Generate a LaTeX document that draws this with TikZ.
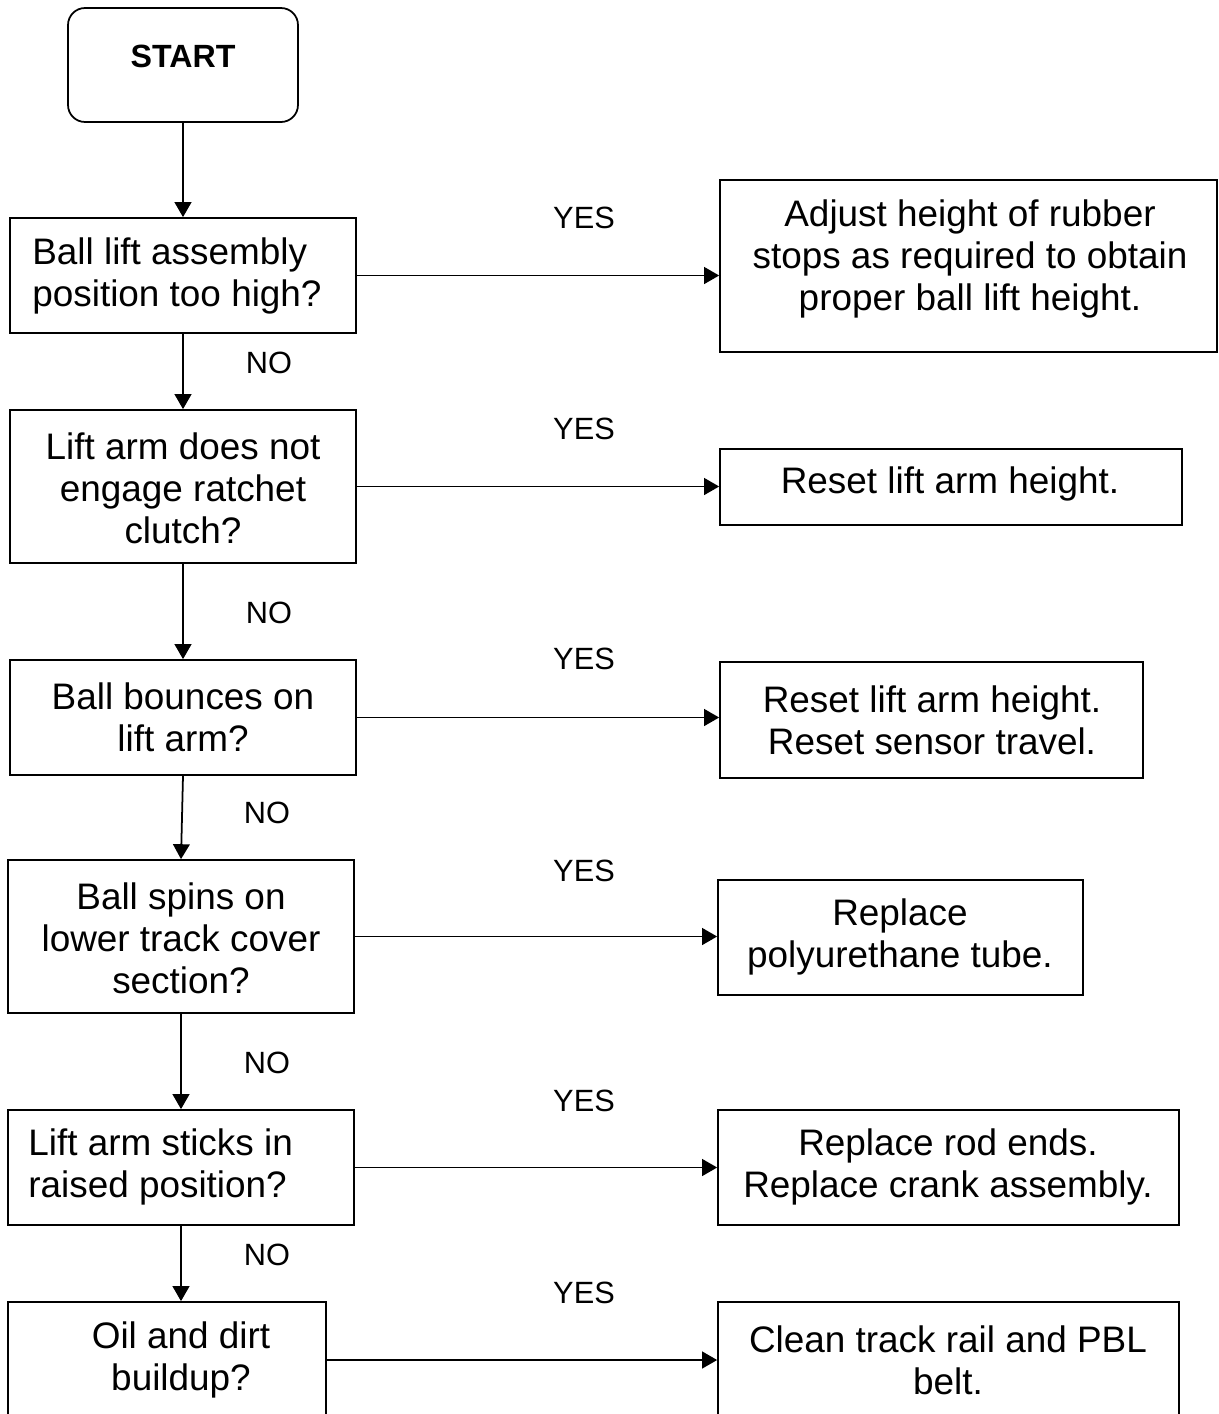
\documentclass[tikz,border=0pt]{standalone}
\usepackage{fontspec}
\setmainfont{Liberation Sans}
\usetikzlibrary{arrows.meta}
\begin{document}
\begin{tikzpicture}[x=0.02cm,y=-0.02cm,
  box/.style={draw,line width=1pt,rectangle,inner sep=0pt},
  txt/.style={font=\fontsize{21}{23.8}\selectfont,align=center,inner sep=0pt},
  lbl/.style={font=\fontsize{17.5}{20}\selectfont,inner sep=0pt},
  arr/.style={line width=1pt,-{Triangle[length=8.5pt,width=9.5pt]}}]
\useasboundingbox (0,0) rectangle (1218,1414);
\clip (0,0) rectangle (1218,1414);
% boxes
\node[box,rounded corners=0.34cm,minimum width=4.6cm,minimum height=2.28cm] (start) at (183,65) {};
\node[box,minimum width=6.92cm,minimum height=2.3cm] (q1) at (183,275.5) {};
\node[box,minimum width=9.94cm,minimum height=3.44cm] (a1) at (968.5,266) {};
\node[box,minimum width=6.92cm,minimum height=3.06cm] (q2) at (183,486.5) {};
\node[box,minimum width=9.24cm,minimum height=1.52cm] (a2) at (951,487) {};
\node[box,minimum width=6.92cm,minimum height=2.3cm] (q3) at (183,717.5) {};
\node[box,minimum width=8.46cm,minimum height=2.32cm] (a3) at (931.5,720) {};
\node[box,minimum width=6.92cm,minimum height=3.06cm] (q4) at (181,936.5) {};
\node[box,minimum width=7.3cm,minimum height=2.3cm] (a4) at (900.5,937.5) {};
\node[box,minimum width=6.92cm,minimum height=2.3cm] (q5) at (181,1167.5) {};
\node[box,minimum width=9.22cm,minimum height=2.3cm] (a5) at (948.5,1167.5) {};
\node[box,minimum width=6.36cm,minimum height=2.32cm] (q6) at (167,1360) {};
\node[box,minimum width=9.22cm,minimum height=2.32cm] (a6) at (948.5,1360) {};
% texts
\node[font=\bfseries\fontsize{18.3}{20}\selectfont,inner sep=0pt] (startt) at (183,56) {START};
\node[txt,anchor=west,align=left] (q1t) at (32,276) {Ball lift assembly\\position too high?};
\node[txt] (a1t) at (970,259) {Adjust height of rubber\\stops as required to obtain\\proper ball lift height.};
\node[txt] (q2t) at (183,488) {Lift arm does not\\engage ratchet\\clutch?};
\node[txt] (a2t) at (950,484) {Reset lift arm height.};
\node[txt] (q3t) at (183,717) {Ball bounces on\\lift arm?};
\node[txt] (a3t) at (932,720) {Reset lift arm height.\\Reset sensor travel.};
\node[txt] (q4t) at (181,938) {Ball spins on\\lower track cover\\section?};
\node[txt] (a4t) at (900,937) {Replace\\polyurethane tube.};
\node[txt,anchor=west,align=left] (q5t) at (28,1167) {Lift arm sticks in\\raised position?};
\node[txt] (a5t) at (948,1167) {Replace rod ends.\\Replace crank assembly.};
\node[txt] (q6t) at (181,1360) {Oil and dirt\\buildup?};
\node[txt] (a6t) at (948,1360) {Clean track rail and PBL\\belt.};
% labels
\node[lbl] (y1) at (584,218) {YES};
\node[lbl] (y2) at (584,429) {YES};
\node[lbl] (y3) at (584,659) {YES};
\node[lbl] (y4) at (584,871) {YES};
\node[lbl] (y5) at (584,1101) {YES};
\node[lbl] (y6) at (584,1293) {YES};
\node[lbl] (n1) at (269,363) {NO};
\node[lbl] (n2) at (269,613) {NO};
\node[lbl] (n3) at (267,813) {NO};
\node[lbl] (n4) at (267,1063) {NO};
\node[lbl] (n5) at (267,1255) {NO};
% connectors
\draw[arr] (start.south) -- (q1.north);
\draw[arr] (q1.south) -- (q2.north);
\draw[arr] (q2.south) -- (q3.north);
\draw[arr] (q3.south) -- (q4.north);
\draw[arr] (q4.south) -- (q5.north);
\draw[arr] (q5.south) -- (q5.south |- q6.north);
\draw[arr] (q1.east) -- (a1.west |- q1.east);
\draw[arr] (q2.east) -- (a2.west |- q2.east);
\draw[arr] (q3.east) -- (a3.west |- q3.east);
\draw[arr] (q4.east) -- (a4.west |- q4.east);
\draw[arr] (q5.east) -- (a5.west |- q5.east);
\draw[arr] (q6.east) -- (a6.west |- q6.east);
\end{tikzpicture}
\end{document}
